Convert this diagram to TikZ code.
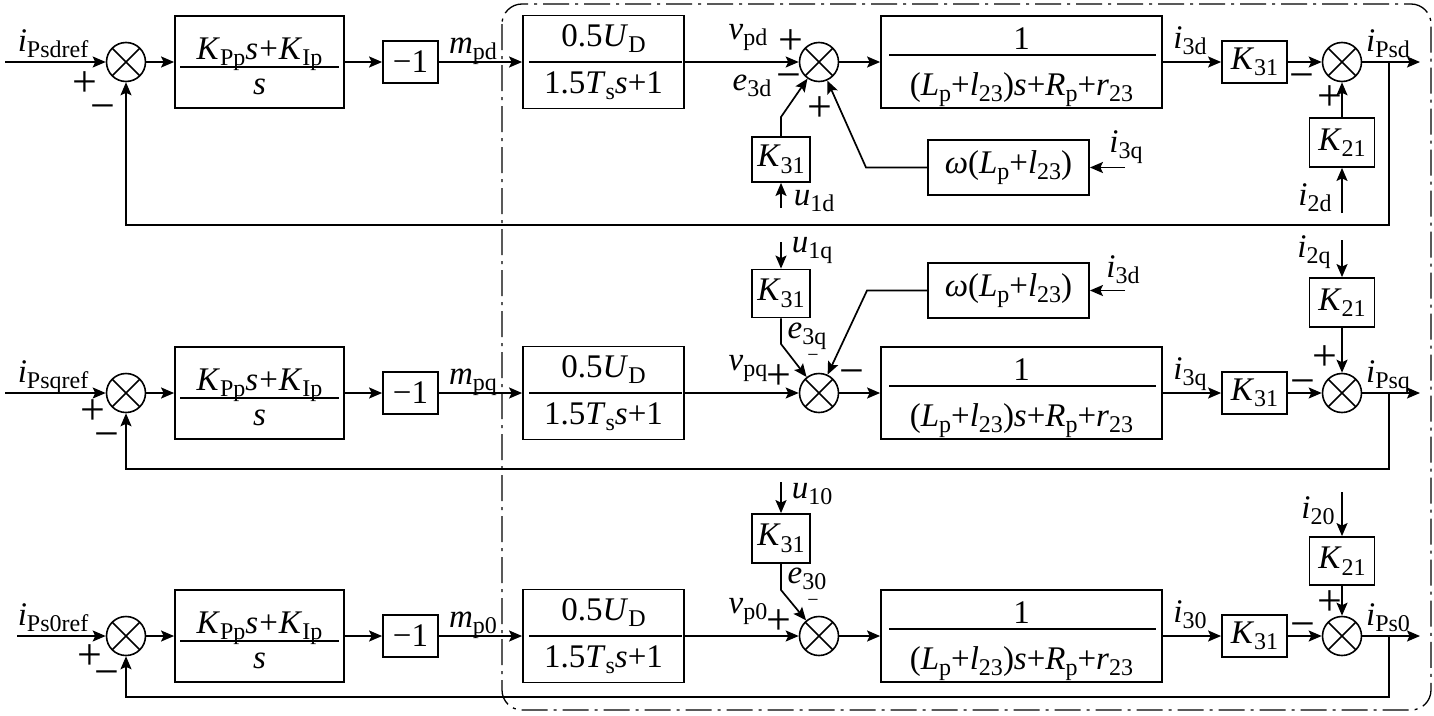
\documentclass[tikz,border=0pt]{standalone}
\usepackage{fontspec}
\setmainfont{Liberation Serif}
\usetikzlibrary{arrows.meta,calc}
\newcommand\sbx[1]{\raisebox{-6.5pt}{\fontsize{24}{24}\selectfont #1}}
\newcommand\mi[2]{\textit{#1}\sbx{#2}}
\newcommand\itx[1]{\textit{#1}}
\begin{document}
\begin{tikzpicture}[x=1pt,y=-1pt,line width=1.7pt,
  >={Stealth[length=13pt,width=11pt,inset=2.5pt]},
  blk/.style={draw,line width=1.8pt,inner sep=0pt,font=\fontsize{33}{36}\selectfont},
  sumj/.style={draw,circle,minimum size=39pt,inner sep=0pt,line width=1.6pt,
    path picture={\draw[line width=1.6pt] (path picture bounding box.north west) -- (path picture bounding box.south east)
      (path picture bounding box.north east) -- (path picture bounding box.south west);}},
  txt/.style={font=\fontsize{33}{36}\selectfont,inner sep=0pt},
  sgn/.style={font=\fontsize{44}{44}\selectfont,inner sep=0pt},
  msgn/.style={font=\fontsize{44}{44}\selectfont,inner sep=0pt,yshift=-6pt},
  smallsgn/.style={font=\fontsize{20}{20}\selectfont,inner sep=0pt},
  frame/.style={line width=1.3pt,dash pattern=on 26pt off 6pt on 3pt off 6pt,rounded corners=20pt}]
\useasboundingbox (0,0) rectangle (1434,715);
\draw[frame] (502,4) rectangle (1431,710);

\foreach \RW/\RY/\FB/\RX/\RF/\RM/\RV/\RI/\RO in
  {d/62/225/5/Psdref/pd/pd/3d/Psd, q/393/469/5/Psqref/pq/pq/3q/Psq, 0/636/697/17/Ps0ref/p0/p0/30/Ps0}{
  \coordinate (in\RW) at (\RX,\RY);
  \node[sumj] (s1\RW) at (126,\RY) {};
  \node[blk,minimum width=169pt,minimum height=92pt] (pi\RW) at (259.5,\RY) {};
  \node[txt,anchor=base] (pin\RW) at (259.5,\RY-3) {\mi{K}{Pp}\itx{s}\kern1pt+\kern1pt\mi{K}{Ip}};
  \node[txt,anchor=base] (pid\RW) at (259.5,\RY+32) {\itx{s}};
  \draw ($(pi\RW.west)+(6,5)$) -- ($(pi\RW.east)+(-6,5)$);
  \node[blk,minimum width=55pt,minimum height=42pt] (neg\RW) at (410.5,\RY) {−1};
  \node[blk,minimum width=161pt,minimum height=93pt] (ud\RW) at (603.5,\RY) {};
  \node[txt,anchor=base] (udn\RW) at (603.5,\RY-16) {0.5\mi{U}{D}};
  \node[txt,anchor=base] (udd\RW) at (603.5,\RY+31) {1.5\mi{T}{s}\itx{s}+1};
  \draw ($(ud\RW.west)+(7,0)$) -- ($(ud\RW.east)+(-3,0)$);
  \node[sumj] (s2\RW) at (819,\RY) {};
  \node[blk,minimum width=281pt,minimum height=92pt] (big\RW) at (1021.5,\RY) {};
  \node[txt,anchor=base] (bign\RW) at (1021.5,\RY-13) {1};
  \node[txt,anchor=base] (bigd\RW) at (1021.5,\RY+33) {(\mi{L}{p}+\mi{l}{23})\itx{s}+\mi{R}{p}+\mi{r}{23}};
  \draw ($(big\RW.west)+(9,-7)$) -- ($(big\RW.east)+(-7,-7)$);
  \node[blk,minimum width=65pt,minimum height=42pt] (kr\RW) at (1254.5,\RY) {\mi{K}{31}};
  \node[sumj] (s3\RW) at (1342,\RY) {};
  \coordinate (br\RW) at (1389,\RY);
  \coordinate (out\RW) at (1420,\RY);
  \draw[->] (in\RW) -- (s1\RW);
  \draw[->] (s1\RW) -- (pi\RW);
  \draw[->] (pi\RW) -- (neg\RW);
  \draw[->] (neg\RW) -- (ud\RW);
  \draw[->] (ud\RW) -- (s2\RW);
  \draw[->] (s2\RW) -- (big\RW);
  \draw[->] (big\RW) -- (kr\RW);
  \draw[->] (kr\RW) -- (s3\RW);
  \draw[->] (s3\RW) -- (out\RW);
  \draw[->] (br\RW) -- (1389,\FB) -| (s1\RW);
  \node[txt,anchor=base] (lref\RW) at (53,\RY-11) {\mi{i}{\RF}};
  \node[txt,anchor=base] (lm\RW) at (473,\RY-9) {\mi{m}{\RM}};
  \node[txt,anchor=base] (lv\RW) at (748,\RY-23) {\mi{v}{\RV}};
  \node[txt,anchor=base] (li\RW) at (1190,\RY-14) {\mi{i}{\RI}};
  \node[txt,anchor=base] (lo\RW) at (1388,\RY-11) {\mi{i}{\RO}};
}

% ---- d row extras
\node[blk,minimum width=58pt,minimum height=45pt] (kld) at (781,159.5) {\mi{K}{31}};
\draw[->] (kld.north) -- (781,117) -- (s2d);
\coordinate (u1d) at (781,208);
\draw[->] (u1d) -- (kld);
\node[txt,anchor=base] (lu1d) at (814,205) {\mi{u}{1d}};
\node[txt,anchor=base] (le3d) at (752,90) {\mi{e}{3d}};
\node[blk,minimum width=161pt,minimum height=55pt] (wd) at (1008.5,167.5) {\itx{ω}(\mi{L}{p}+\mi{l}{23})};
\draw[->] (wd.west) -- (866,167.5) -- (s2d);
\coordinate (i3qd) at (1125,167.5);
\draw[->] (i3qd) -- (wd);
\node[txt,anchor=base] (li3qd) at (1126,152) {\mi{i}{3q}};
\node[blk,minimum width=65pt,minimum height=49pt] (k2d) at (1342,142.5) {\mi{K}{21}};
\draw[->] (k2d) -- (s3d);
\coordinate (i2d) at (1342,213);
\draw[->] (i2d) -- (k2d);
\node[txt,anchor=base] (li2d) at (1315,205) {\mi{i}{2d}};
\node[sgn] at (85,84) {+};
\node[msgn] at (103,107) {−};
\node[sgn] at (791,42) {+};
\node[msgn] at (789,76) {−};
\node[sgn] at (820,109) {+};
\node[msgn] at (1302,76) {−};
\node[sgn] at (1330,98) {+};

% ---- q row extras
\node[blk,minimum width=58pt,minimum height=48pt] (klq) at (781,293.5) {\mi{K}{31}};
\coordinate (u1q) at (781,242);
\draw[->] (u1q) -- (klq);
\node[txt,anchor=base] (lu1q) at (812,252) {\mi{u}{1q}};
\draw[->] (klq) -- (781,344) -- (s2q);
\node[txt,anchor=base] (le3q) at (807,338) {\mi{e}{3q}};
\node[smallsgn] at (813,358) {−};
\node[blk,minimum width=161pt,minimum height=55pt] (wq) at (1008.5,290.5) {\itx{ω}(\mi{L}{p}+\mi{l}{23})};
\draw[->] (wq.west) -- (867,290.5) -- (s2q);
\coordinate (i3dq) at (1125,290.5);
\draw[->] (i3dq) -- (wq);
\node[txt,anchor=base] (li3dq) at (1123,277) {\mi{i}{3d}};
\node[blk,minimum width=65pt,minimum height=49pt] (k2q) at (1342,302.5) {\mi{K}{21}};
\coordinate (i2q) at (1342,240);
\draw[->] (i2q) -- (k2q);
\node[txt,anchor=base] (li2q) at (1314,257) {\mi{i}{2q}};
\draw[->] (k2q) -- (s3q);
\node[sgn] at (93,412) {+};
\node[msgn] at (107,435) {−};
\node[sgn] at (779,377) {+};
\node[msgn] at (852,372) {−};
\node[sgn] at (1325,358) {+};
\node[msgn] at (1303,382) {−};

% ---- 0 row extras
\node[blk,minimum width=58pt,minimum height=49pt] (kl0) at (781,538.5) {\mi{K}{31}};
\coordinate (u10) at (781,482);
\draw[->] (u10) -- (kl0);
\node[txt,anchor=base] (lu10) at (812,498) {\mi{u}{10}};
\draw[->] (kl0) -- (781,590) -- (s20);
\node[txt,anchor=base] (le30) at (807,583) {\mi{e}{30}};
\node[smallsgn] at (813,603) {−};
\node[blk,minimum width=65pt,minimum height=48pt] (k20) at (1342,561) {\mi{K}{21}};
\coordinate (i20) at (1342,492);
\draw[->] (i20) -- (k20);
\node[txt,anchor=base] (li20) at (1318,518) {\mi{i}{20}};
\draw[->] (k20) -- (s30);
\node[sgn] at (90,657) {+};
\node[msgn] at (107,673) {−};
\node[sgn] at (779,622) {+};
\node[sgn] at (1330,603) {+};
\node[msgn] at (1303,625) {−};
\end{tikzpicture}
\end{document}
